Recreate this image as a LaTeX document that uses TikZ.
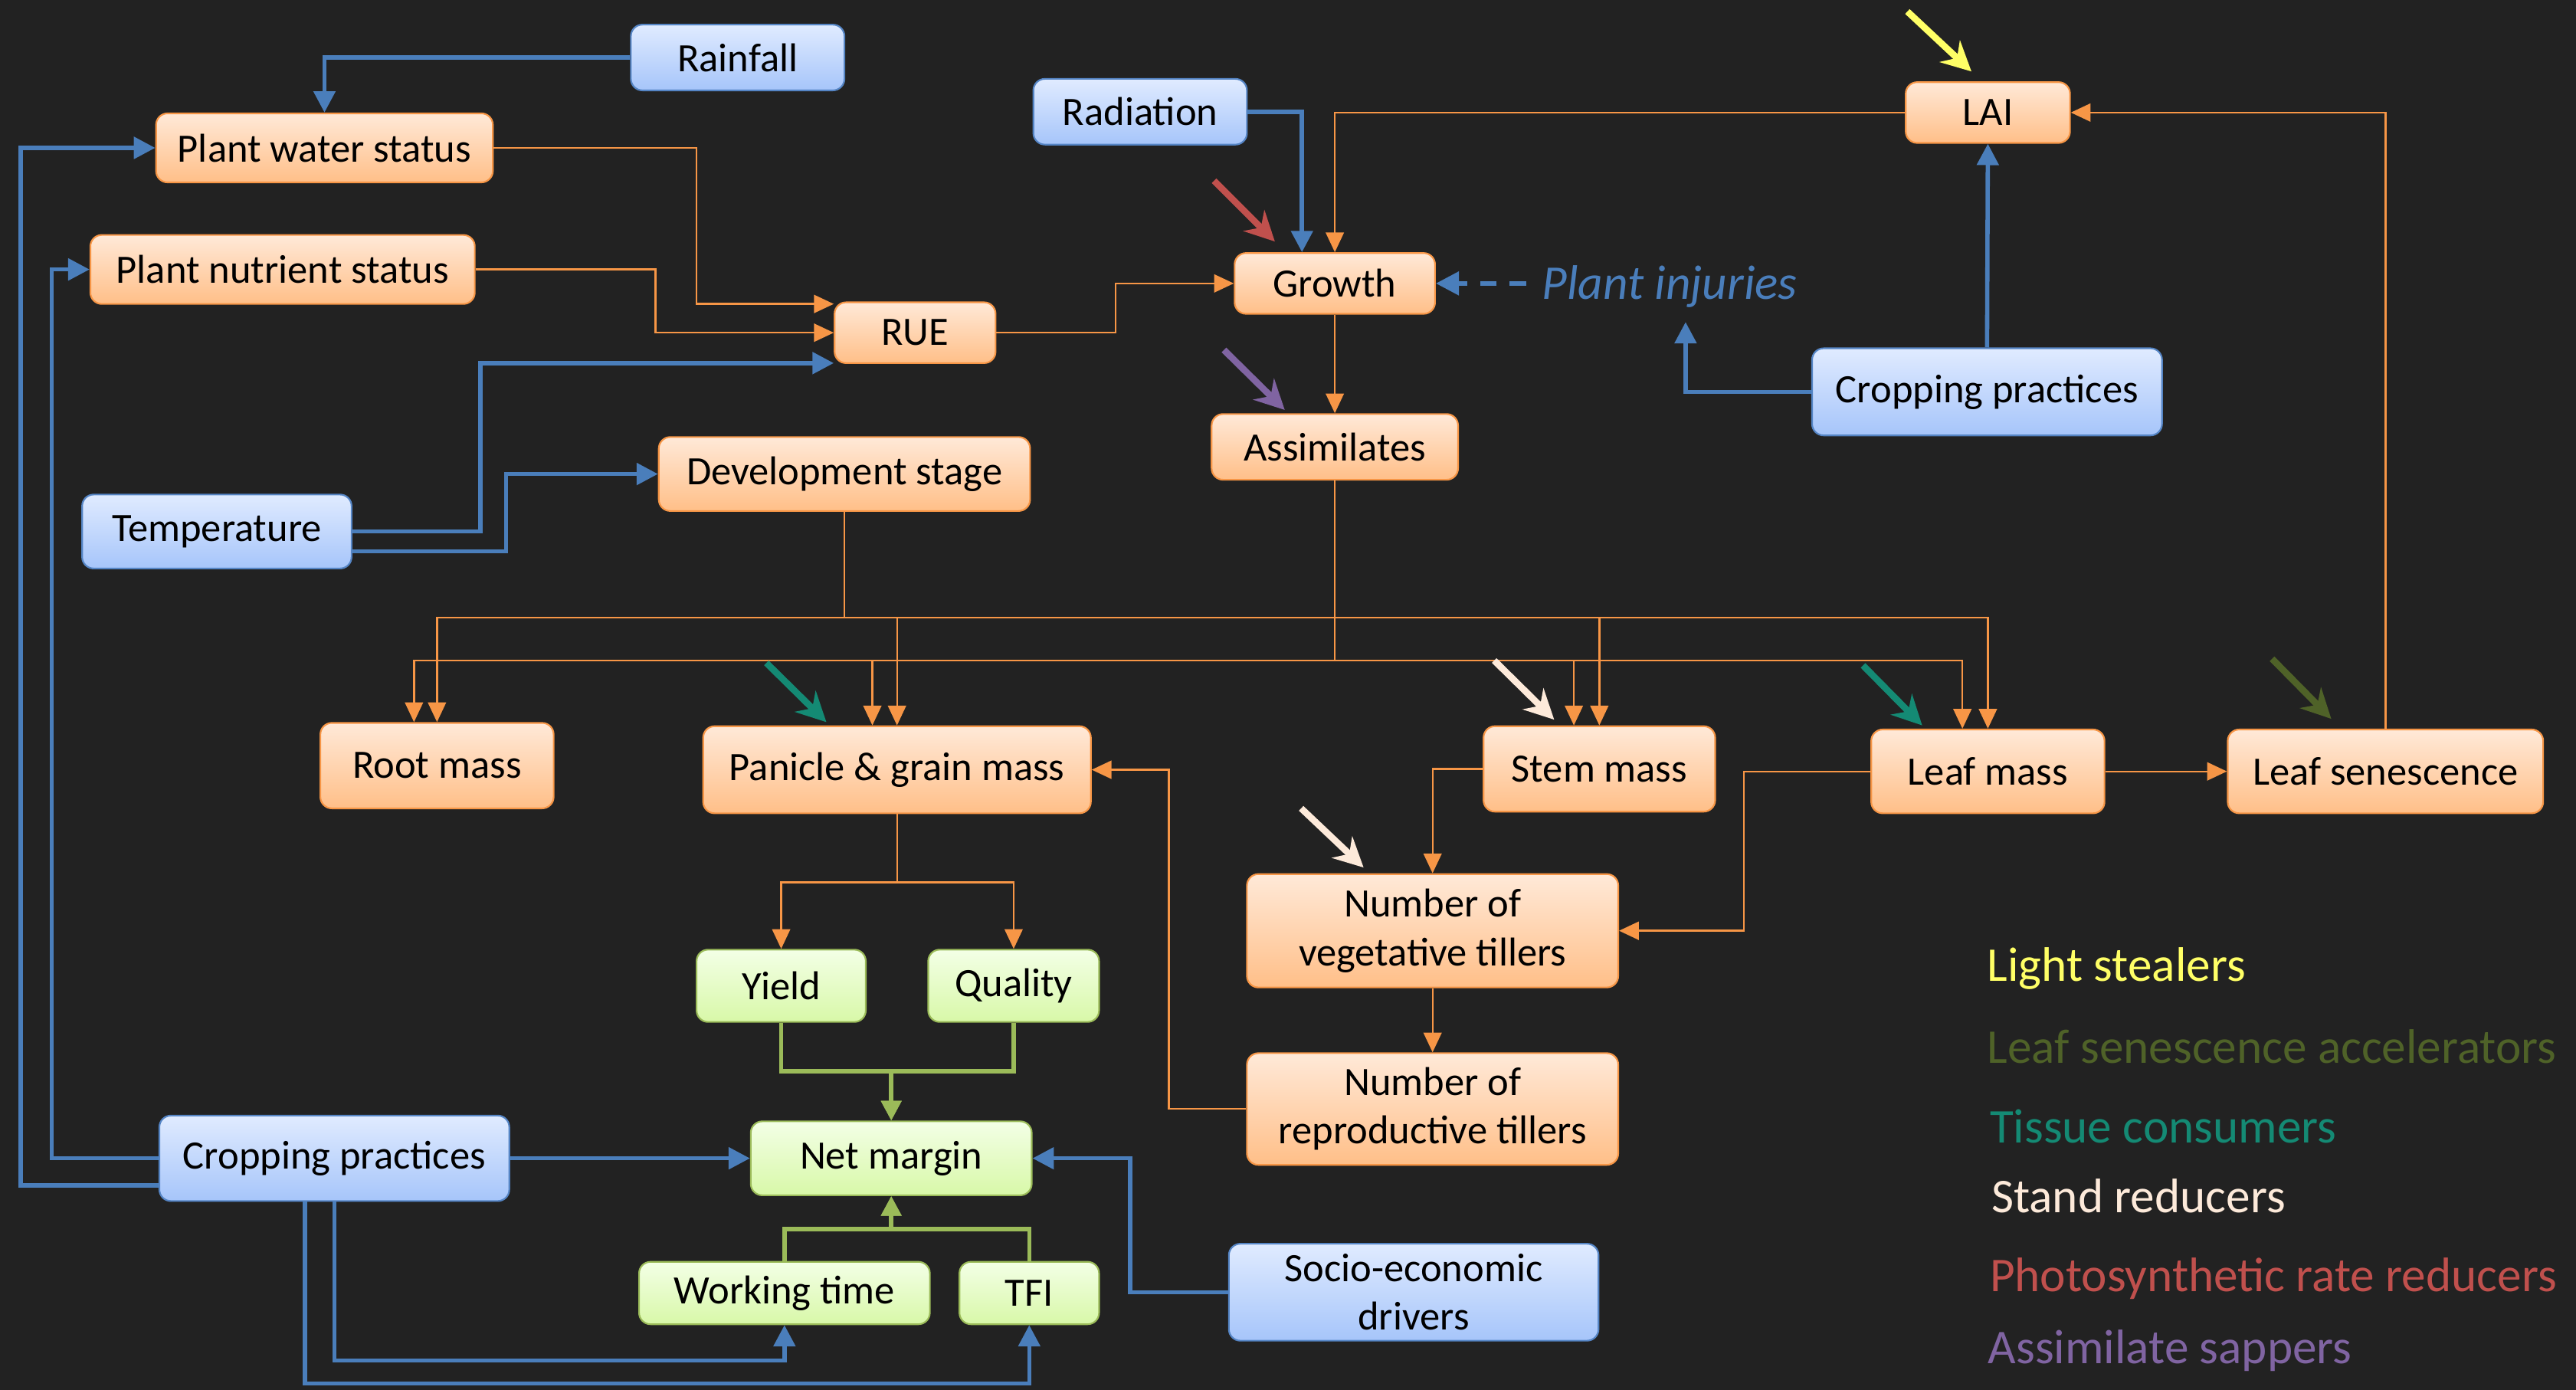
\documentclass[tikz,border=0pt]{standalone}
\usepackage{fontspec}
\setmainfont{Carlito}
\usetikzlibrary{arrows.meta}
\definecolor{bg}{HTML}{222222}
\definecolor{oline}{HTML}{F79646}
\definecolor{otop}{HTML}{FFE9D8}
\definecolor{obot}{HTML}{FFBF88}
\definecolor{bline}{HTML}{4A7EBB}
\definecolor{bborder}{HTML}{5585C5}
\definecolor{btop}{HTML}{E0EBFF}
\definecolor{bbot}{HTML}{A6C5FA}
\definecolor{gline}{HTML}{9BBB59}
\definecolor{gtop}{HTML}{F3FFE6}
\definecolor{gbot}{HTML}{D8F8A8}
\definecolor{pyellow}{HTML}{FFFF66}
\definecolor{pred}{HTML}{C0504D}
\definecolor{ppurple}{HTML}{8064A2}
\definecolor{pteal}{HTML}{148A74}
\definecolor{pcream}{HTML}{FDEADA}
\definecolor{polive}{HTML}{4F6228}
\begin{document}
\begin{tikzpicture}[x=1pt,y=-1pt,
  box/.style={rounded corners=7pt, inner sep=0pt, align=center, text=black,
    font=\fontsize{24.5}{29.5}\selectfont, line width=1pt},
  obox/.style={box, draw=oline, top color=otop, bottom color=obot},
  bbox/.style={box, draw=bborder, top color=btop, bottom color=bbot},
  gbox/.style={box, draw=gline, top color=gtop, bottom color=gbot},
  oarr/.style={draw=oline, line width=1.1pt, -{Triangle[length=12pt,width=11pt]}},
  barr/.style={draw=bline, line width=2.6pt, -{Triangle[length=13pt,width=13pt]}},
  garr/.style={draw=gline, line width=2.6pt, -{Triangle[length=12pt,width=12pt]}},
  pest/.style={line width=4pt, -{Stealth[length=18pt,width=18pt,inset=6pt]}},
  legend/.style={anchor=base west, inner sep=0pt, font=\fontsize{29.5}{35}\selectfont},
]
\fill[bg] (0,0) rectangle (1568,846);
\useasboundingbox (0,0) rectangle (1568,846);

% blue boxes
\node[bbox, minimum width=130pt, minimum height=40pt] (rain) at (449,35) {Rainfall};
\node[bbox, minimum width=130pt, minimum height=40pt] (rad) at (694,68) {Radiation};
\node[bbox, minimum width=164pt, minimum height=45pt] (temp) at (132,323.5) {Temperature};
\node[bbox, minimum width=213pt, minimum height=53pt] (cpR) at (1209.5,238.5) {Cropping practices};
\node[bbox, minimum width=213pt, minimum height=52pt] (cpL) at (203.5,705) {Cropping practices};
\node[bbox, minimum width=225pt, minimum height=59pt] (socio) at (860.5,786.5) {Socio-economic\\drivers};

% orange boxes
\node[obox, minimum width=205pt, minimum height=42pt] (pws) at (197.5,90) {Plant water status};
\node[obox, minimum width=234pt, minimum height=42pt] (pns) at (172,164) {Plant nutrient status};
\node[obox, minimum width=98pt, minimum height=37pt] (rue) at (557,202.5) {RUE};
\node[obox, minimum width=226pt, minimum height=45pt] (ds) at (514,288.5) {Development stage};
\node[obox, minimum width=122pt, minimum height=37pt] (growth) at (812.5,172.5) {Growth};
\node[obox, minimum width=150pt, minimum height=40pt] (assim) at (812.5,272) {Assimilates};
\node[obox, minimum width=100pt, minimum height=37pt] (lai) at (1210,68.5) {LAI};
\node[obox, minimum width=142pt, minimum height=52pt] (root) at (266,466) {Root mass};
\node[obox, minimum width=236pt, minimum height=53pt] (panicle) at (546,468.5) {Panicle \& grain mass};
\node[obox, minimum width=141pt, minimum height=52pt] (stem) at (973.5,468) {Stem mass};
\node[obox, minimum width=142pt, minimum height=51pt] (leaf) at (1210,469.5) {Leaf mass};
\node[obox, minimum width=192pt, minimum height=51pt] (sen) at (1452,469.5) {Leaf senescence};
\node[obox, minimum width=226pt, minimum height=69pt] (nvt) at (872,566.5) {Number of\\vegetative tillers};
\node[obox, minimum width=226pt, minimum height=68pt] (nrt) at (872,675) {Number of\\reproductive tillers};

% green boxes
\node[gbox, minimum width=103pt, minimum height=44pt] (yield) at (475.5,600) {Yield};
\node[gbox, minimum width=104pt, minimum height=44pt] (quality) at (617,600) {Quality};
\node[gbox, minimum width=171pt, minimum height=45pt] (net) at (542.5,705) {Net margin};
\node[gbox, minimum width=177pt, minimum height=38pt] (work) at (477.5,787) {Working time};
\node[gbox, minimum width=85pt, minimum height=38pt] (tfi) at (626.5,787) {TFI};

% plant injuries
\node[anchor=base west, inner sep=0pt, text=bline, font=\fontsize{29.5}{35}\selectfont\itshape] (inj) at (938.5,182) {Plant injuries};
\coordinate (injtail) at (929,172.5);
\coordinate (injin) at (1026,196);

% orange connectors
\draw[oarr] (pws.east) -| (424,185) -- ([yshift=17.5pt]rue.west);
\draw[oarr] (pns.east) -| (399,202.5) -- (rue.west);
\draw[oarr] (rue.east) -- (679,202.5) |- (growth.west);
\draw[oarr] (lai.west) -| (growth.north);
\draw[oarr] (growth.south) -- (assim.north);
\draw[oarr] (sen.north) |- (lai.east);
\draw[oarr] (ds.south) |- (266,376) -- (root.north);
\draw[oarr] (ds.south) |- (546,376) -- (panicle.north);
\draw[oarr] (ds.south) |- (973.5,376) -- (stem.north);
\draw[oarr] (ds.south) |- (1210,376) -- (leaf.north);
\draw[oarr] (assim.south) |- (252,402) -- ([xshift=-14pt]root.north);
\draw[oarr] (assim.south) |- (531,402) -- ([xshift=-15pt]panicle.north);
\draw[oarr] (assim.south) |- (958,402) -- ([xshift=-15.5pt]stem.north);
\draw[oarr] (assim.south) |- (1194.5,402) -- ([xshift=-15.5pt]leaf.north);
\draw[oarr] (stem.west) -| (nvt.north);
\draw[oarr] (leaf.west) -- (1061.5,469.5) |- (nvt.east);
\draw[oarr] (nvt.south) -- (nrt.north);
\draw[oarr] (nrt.west) -- (711.5,675) |- (panicle.east);
\draw[oarr] (leaf.east) -- (sen.west);
\draw[oarr] (panicle.south) -- (546,537) -| (yield.north);
\draw[oarr] (panicle.south) -- (546,537) -| (quality.north);

% green connectors
\draw[garr] (yield.south) |- (542.5,652) -- (net.north);
\draw[garr] (quality.south) |- (542.5,652) -- (net.north);
\draw[garr] (work.north) |- (542.5,748) -- (net.south);
\draw[garr] (tfi.north) |- (542.5,748) -- (net.south);

% blue connectors
\draw[barr] (rain.west) -| (pws.north);
\draw[barr] (rad.east) -| ([xshift=-20pt]growth.north);
\draw[barr] (temp.east) -| (292.5,221) -- ([yshift=-18.5pt]rue.west);
\draw[barr] ([yshift=-12pt]temp.east) -| (308,288.5) -- (ds.west);
\draw[barr] (cpR.north) -- (lai.south);
\draw[barr] (cpR.west) -| (injin);
\draw[barr] ([yshift=-16.5pt]cpL.west) -| (12.5,90) -- (pws.west);
\draw[barr] (cpL.west) -| (31.5,164) -- (pns.west);
\draw[barr] (cpL.east) -- (net.west);
\draw[barr] (cpL.south) |- (477.5,828) -- (work.south);
\draw[barr] ([xshift=-18pt]cpL.south) |- (626.5,842) -- (tfi.south);
\draw[barr] (socio.west) -- (688,786.5) |- (net.east);
\draw[draw=bline, line width=2.6pt, dash pattern=on 10pt off 8pt, -{Triangle[length=14pt,width=14pt]}] (injtail) -- (growth.east);

% pest arrows
\draw[pest, pyellow] (1161,7) -- (1200,43.5);
\draw[pest, pred] (739,110) -- (776,147);
\draw[pest, ppurple] (745,213) -- (782,249.5);
\draw[pest, pteal] (466.5,403.5) -- (503,439.5);
\draw[pest, pcream] (909.5,402) -- (946,438);
\draw[pest, pcream] (792,492) -- (830,528);
\draw[pest, pteal] (1134,405) -- (1170,441.5);
\draw[pest, polive] (1383,401) -- (1419,437.5);

% legend
\node[legend, text=pyellow] (l1) at (1209.5,597) {Light stealers};
\node[legend, text=polive] (l2) at (1209.5,647) {Leaf senescence accelerators};
\node[legend, text=pteal] (l3) at (1211,695.5) {Tissue consumers};
\node[legend, text=pcream] (l4) at (1212,738) {Stand reducers};
\node[legend, text=pred] (l5) at (1211,786) {Photosynthetic rate reducers};
\node[legend, text=ppurple] (l6) at (1210,830) {Assimilate sappers};
\end{tikzpicture}
\end{document}
